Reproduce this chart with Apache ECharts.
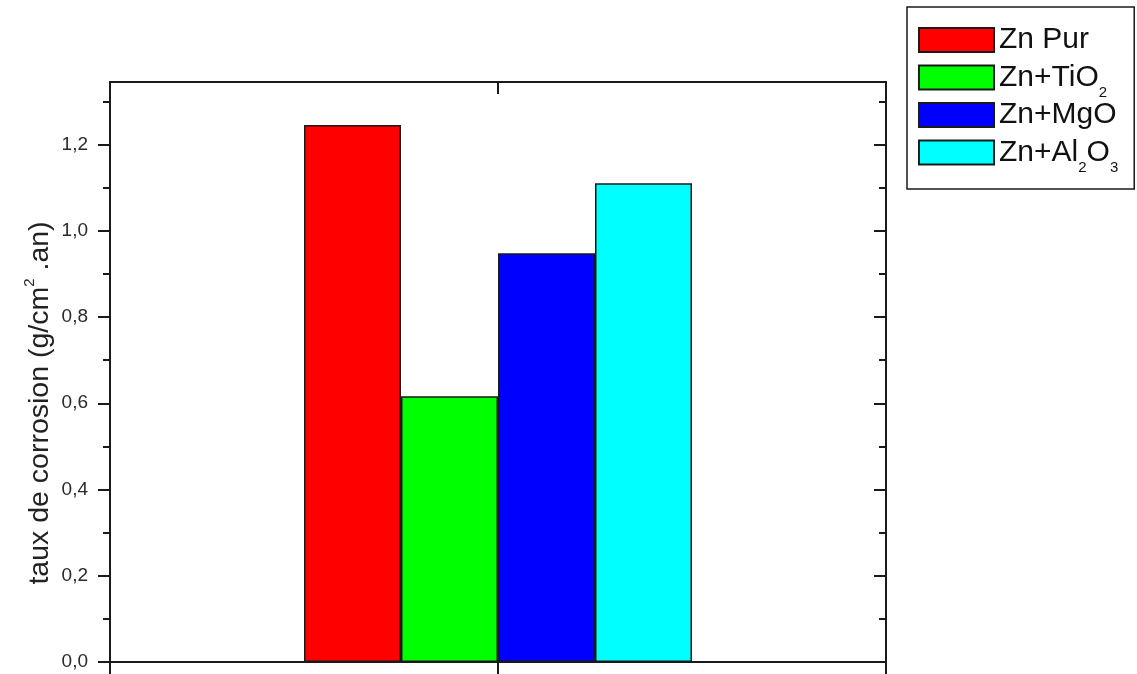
<!DOCTYPE html>
<html>
<head>
<meta charset="utf-8">
<title>Taux de corrosion</title>
<script src="https://cdn.jsdelivr.net/npm/echarts@6/dist/echarts.min.js"></script>
<style>
  html, body { margin: 0; padding: 0; background: #fff; }
  #chart { width: 1137px; height: 674px; }
</style>
</head>
<body>
<div id="chart"></div>
<script>
// Corrosion rate per coating (g/cm².an)
const categories = ['Zn'];
const seriesNames = ['Zn Pur', 'Zn+TiO2', 'Zn+MgO', 'Zn+Al2O3'];
const seriesValues = [1.245, 0.616, 0.948, 1.110];
const seriesColors = ['#ff0000', '#00ff00', '#0000ff', '#00ffff'];
const yTicks = [0, 0.2, 0.4, 0.6, 0.8, 1.0, 1.2];
const yMax = 1.345;

const FONT = '"Liberation Sans", Arial, sans-serif';
const INK = '#1a1a1a';

const chart = echarts.init(document.getElementById('chart'));

const lineStyle = { color: INK, width: 2 };

const option = {
  animation: false,
  backgroundColor: '#ffffff',
  grid: { left: 110, right: 251, top: 82, bottom: 12, containLabel: false },
  legend: {
    orient: 'vertical',
    left: 907,
    top: 7,
    padding: [18, 16, 14, 11],
    itemWidth: 75,
    itemHeight: 24,
    itemGap: 0,
    borderColor: INK,
    borderWidth: 1.5,
    icon: 'rect',
    data: seriesNames,
    formatter: function (name) {
      return name.replace(/(\d)/g, '{s|$1}');
    },
    textStyle: {
      fontFamily: FONT,
      fontSize: 30,
      lineHeight: 24,
      color: '#111',
      rich: {
        s: { fontFamily: FONT, fontSize: 15, color: '#111', lineHeight: 10, padding: [30, 0, 0, 0] }
      }
    }
  },
  xAxis: [
    {
      type: 'category',
      position: 'top',
      data: categories,
      boundaryGap: true,
      axisLine: { show: true, onZero: false, lineStyle: lineStyle },
      axisTick: { show: true, inside: true, length: 12, alignWithLabel: true, lineStyle: lineStyle },
      axisLabel: { show: false },
      splitLine: { show: false }
    },
    {
      type: 'value',
      position: 'bottom',
      min: 0,
      max: 2,
      interval: 1,
      axisLine: { show: true, onZero: false, lineStyle: lineStyle },
      axisTick: { show: true, inside: false, length: 12, lineStyle: lineStyle },
      axisLabel: { show: false },
      splitLine: { show: false }
    }
  ],
  yAxis: [
    {
      type: 'value',
      position: 'left',
      min: 0,
      max: yMax,
      interval: 0.2,
      axisLine: { show: true, onZero: false, lineStyle: lineStyle },
      axisTick: { show: true, inside: false, length: 12, customValues: yTicks, lineStyle: lineStyle },
      minorTick: { show: true, splitNumber: 2, length: 7, lineStyle: lineStyle },
      axisLabel: {
        show: true,
        customValues: yTicks,
        margin: 22,
        fontFamily: FONT,
        fontSize: 19,
        color: '#2a2a2a',
        formatter: function (v) { return v.toFixed(1).replace('.', ','); }
      },
      splitLine: { show: false }
    },
    {
      type: 'value',
      position: 'right',
      min: 0,
      max: yMax,
      interval: 0.2,
      axisLine: { show: true, onZero: false, lineStyle: lineStyle },
      axisTick: { show: true, inside: true, length: 12, customValues: yTicks, lineStyle: lineStyle },
      minorTick: { show: true, splitNumber: 2, length: 7, lineStyle: lineStyle },
      axisLabel: { show: false },
      splitLine: { show: false }
    }
  ],
  series: seriesNames.map(function (name, i) {
    return {
      name: name,
      type: 'bar',
      xAxisIndex: 0,
      yAxisIndex: 0,
      data: [seriesValues[i]],
      barGap: '0%',
      barCategoryGap: '50%',
      itemStyle: { color: seriesColors[i], borderColor: INK, borderWidth: 1.5 }
    };
  }),
  graphic: [
    {
      type: 'text',
      x: 40,
      y: 403,
      rotation: Math.PI / 2,
      style: {
        text: 'taux de corrosion (g/cm{sup|2} .an)',
        fontFamily: FONT,
        fontSize: 28.5,
        fill: '#222',
        align: 'center',
        verticalAlign: 'middle',
        rich: {
          sup: { fontFamily: FONT, fontSize: 15, fill: '#222', lineHeight: 10, padding: [0, 0, 20, 0] }
        }
      }
    }
  ]
};

chart.setOption(option);
</script>
</body>
</html>
